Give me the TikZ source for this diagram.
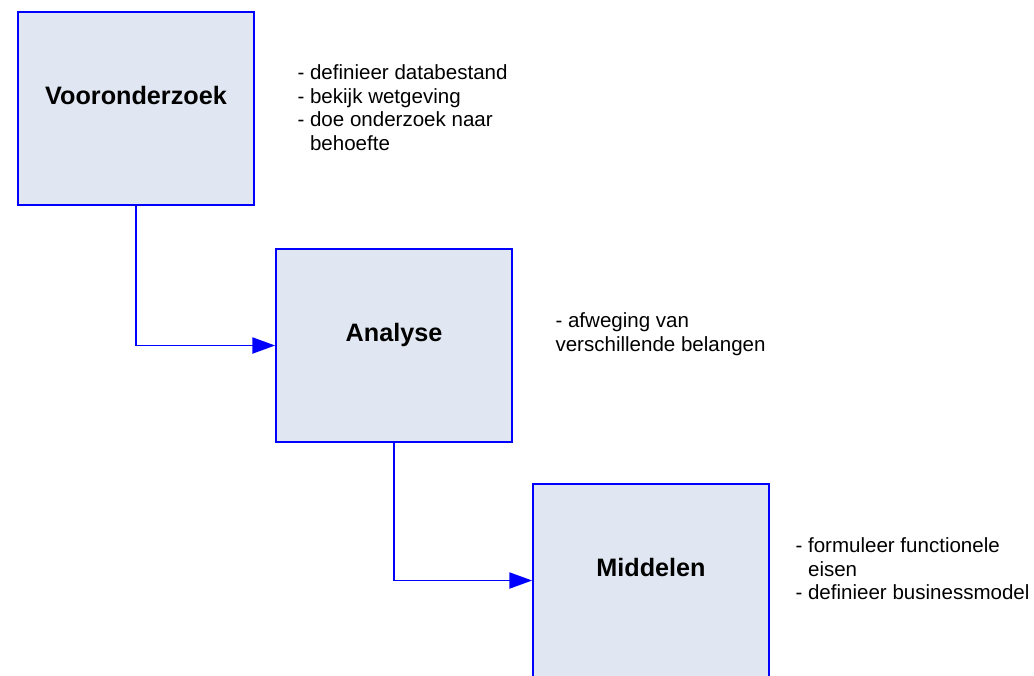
\documentclass[tikz,border=0pt]{standalone}
\usepackage{fontspec}
\setmainfont{Liberation Sans}
\usetikzlibrary{arrows.meta}
\definecolor{boxfill}{RGB}{224,231,242}

\begin{document}
\begin{tikzpicture}[x=0.75pt, y=-0.75pt, thick]

	\tikzstyle{stage}=[rectangle, draw=blue, line width=1.3pt, fill=boxfill, text=black, minimum width=177pt, minimum height=144.75pt, font=\fontsize{18.9}{22}\selectfont\bfseries, text height=13pt, text depth=19pt]
	\tikzstyle{note}=[anchor=north west, inner sep=0pt, align=left, text=black, font=\fontsize{15.4}{17.8}\selectfont]
	\tikzstyle{flow}=[-{Triangle[length=17pt, width=12pt]}, blue, line width=1.4pt]

	\useasboundingbox (0,0) rectangle (1034,675);
	\clip (0,0) rectangle (1034,675);

	% stages
	\node[stage] (voor) at (136,108.5) {Vooronderzoek};
	\node[stage] (ana)  at (394,345.5) {Analyse};
	\node[stage] (mid)  at (651,580.5) {Middelen};

	% notes next to the stages
	\node[note] (voornote) at (297,64)  {- definieer databestand\\- bekijk wetgeving\\- doe onderzoek naar\\\hphantom{- }behoefte};
	\node[note] (ananote)  at (555,312) {- afweging van\\verschillende belangen};
	\node[note] (midnote)  at (795,537) {- formuleer functionele\\\hphantom{- }eisen\\- definieer businessmodel};

	% flow between stages
	\draw[flow] (voor.south) |- (ana.west);
	\draw[flow] (ana.south) |- (mid.west);

\end{tikzpicture}
\end{document}
